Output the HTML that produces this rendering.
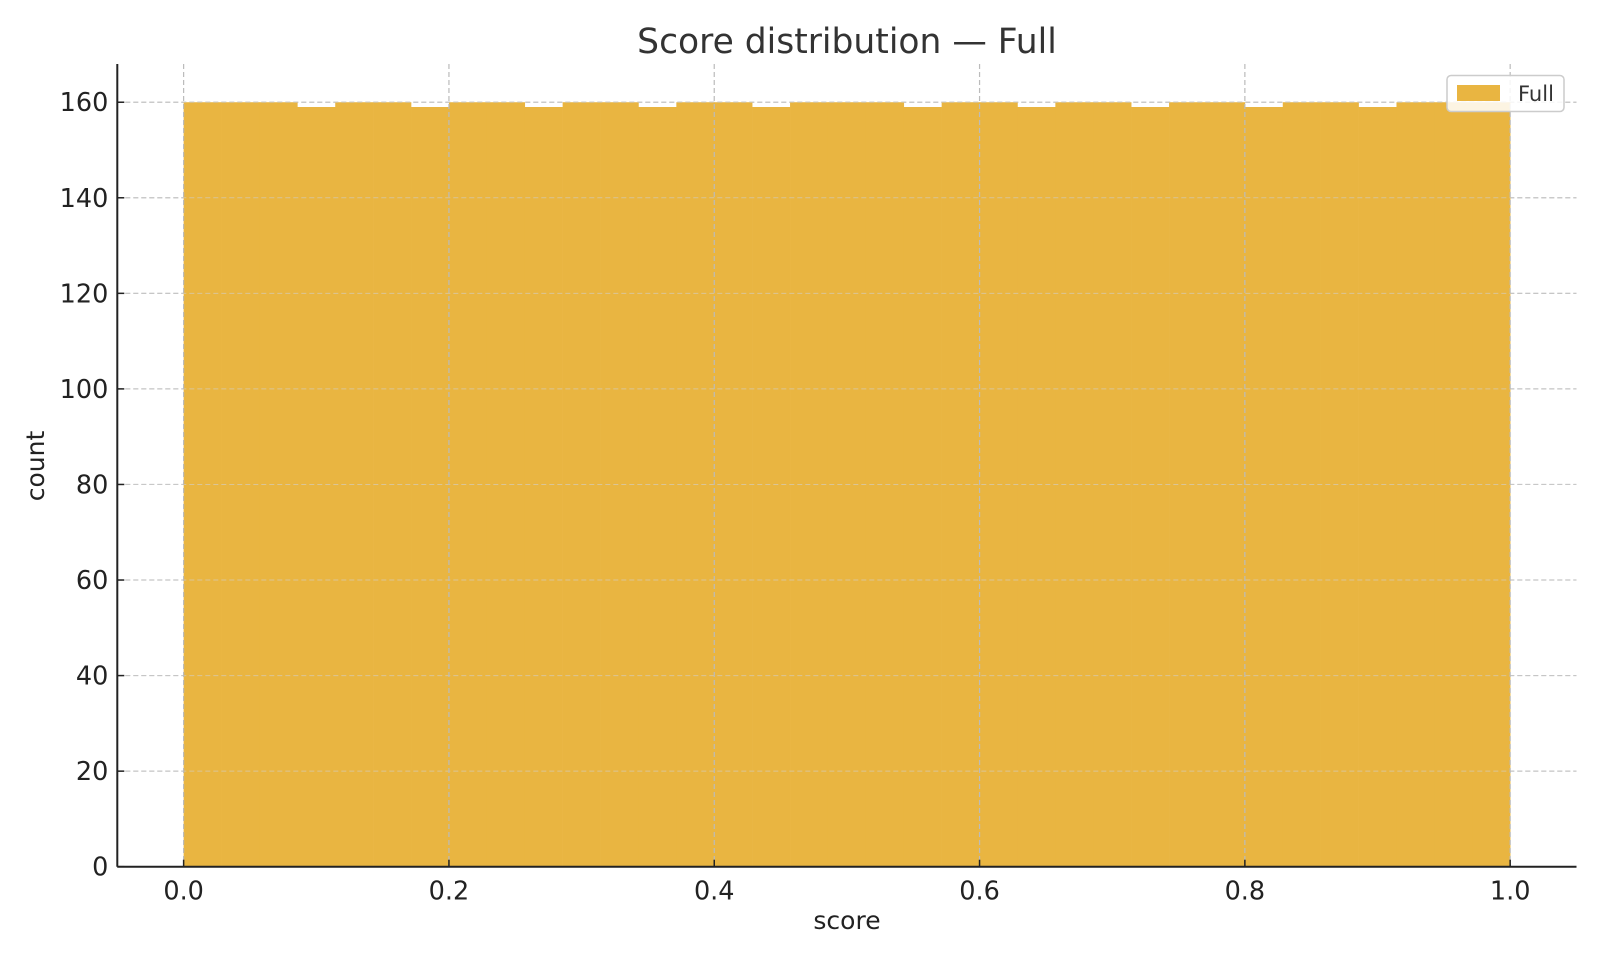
<!DOCTYPE html>
<html><head><meta charset="utf-8"><style>
html,body{margin:0;padding:0;background:#fff;}
svg{display:block;font-family:"DejaVu Sans","Liberation Sans",sans-serif;}
</style></head><body>
<svg id="chart" width="1600" height="960">
<text x="847" y="53" font-size="34.5" fill="#333" text-anchor="middle">Score distribution — Full</text>
<g id="grid"></g>
<g id="bars"></g>
<g id="gridv"></g>
<g id="axes"></g>
<text x="847" y="929" font-size="25" fill="#222" text-anchor="middle">score</text>
<text x="44" y="466" font-size="25" fill="#222" text-anchor="middle" transform="rotate(-90 44 466)">count</text>
<g>
<rect x="1447" y="75.5" width="117" height="36" rx="4" fill="#fff" fill-opacity="0.85" stroke="#ccc" stroke-width="1.5"/>
<rect x="1457" y="85" width="43" height="16" fill="#E9B541"/>
<text x="1518" y="101" font-size="21" fill="#333">Full</text>
</g>
</svg>
<script>
const binStart = 0, binEnd = 1;
const counts = [160,160,160,159,160,160,159,160,160,159,160,160,159,160,160,159,160,160,160,159,160,160,159,160,160,159,160,160,159,160,160,159,160,160,160];
const yTicks = [0,20,40,60,80,100,120,140,160];
const xTicks = [0.0,0.2,0.4,0.6,0.8,1.0];
const xMin=-0.05, xMax=1.05, yMin=0, yMax=168;
const L=117.3, R=1576.5, T=64, B=866.7;
const sx=v=>L+(v-xMin)/(xMax-xMin)*(R-L);
const sy=v=>B-(v-yMin)/(yMax-yMin)*(B-T);
const NS="http://www.w3.org/2000/svg";
function mk(tag,attrs,parent){const e=document.createElementNS(NS,tag);for(const k in attrs)e.setAttribute(k,attrs[k]);parent.appendChild(e);return e;}
const grid=document.getElementById('grid'),bars=document.getElementById('bars'),gridv=document.getElementById('gridv'),axes=document.getElementById('axes');
yTicks.forEach(t=>{
  const g=mk('line',{x1:L,x2:R,y1:sy(t),y2:sy(t),stroke:'#bbbbbb','stroke-width':1.2,'stroke-dasharray':'5,3'},grid);
  
  
  const tk=mk('line',{x1:L,x2:L+7,y1:sy(t),y2:sy(t),stroke:'#222','stroke-width':1.5},axes);
  
  
  const lb=mk('text',{x:L-9,y:sy(t)+9,'font-size':25.5,fill:'#222','text-anchor':'end'},axes);
  lb.textContent=t;
  
  
});
const w=(binEnd-binStart)/counts.length;
counts.forEach((c,i)=>{
  const x0=sx(binStart+i*w),x1=sx(binStart+(i+1)*w);
  const r=mk('rect',{x:x0,y:sy(c),width:x1-x0+0.3,height:sy(0)-sy(c),fill:'#E9B541'},bars);
  
  
});
yTicks.forEach(t=>{
  const g=mk('line',{x1:L,x2:R,y1:sy(t),y2:sy(t),stroke:'#d0d0d0','stroke-width':1,'stroke-dasharray':'5,3','stroke-opacity':0.6},gridv);
  
  
});
xTicks.forEach(t=>{
  const g=mk('line',{x1:sx(t),x2:sx(t),y1:T,y2:B,stroke:'#bbbbbb','stroke-width':1.2,'stroke-dasharray':'5,3'},gridv);
  
  
  const tk=mk('line',{x1:sx(t),x2:sx(t),y1:B,y2:B-7,stroke:'#222','stroke-width':1.5},axes);
  
  
  const lb=mk('text',{x:sx(t),y:B+33,'font-size':25.5,fill:'#222','text-anchor':'middle'},axes);
  lb.textContent=t.toFixed(1);
  
  
});
const ya=mk('line',{x1:L,x2:L,y1:T,y2:B,stroke:'#222','stroke-width':2},axes);


const xa=mk('line',{x1:L,x2:R,y1:B,y2:B,stroke:'#222','stroke-width':2},axes);


</script>
</body></html>
